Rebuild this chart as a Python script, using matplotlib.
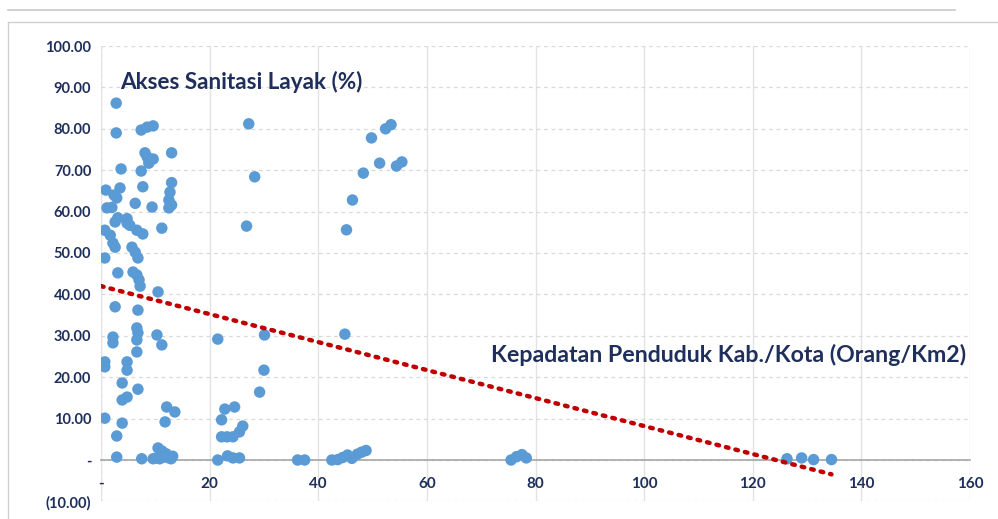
import matplotlib
matplotlib.use("Agg")
import matplotlib.pyplot as plt
from matplotlib.lines import Line2D
from matplotlib.ticker import FuncFormatter, MultipleLocator
import numpy as np

# ---- data ----
density = [
    2.8, 2.8, 7.4, 8.5, 9.6, 8.1, 8.5, 9.6, 8.8, 13.0,
    3.7, 7.4, 7.7, 13.0, 0.9, 3.5, 2.4, 2.9, 12.7, 12.5,
    13.0, 6.3, 9.4, 2.0, 1.1, 12.5, 3.1, 4.8, 2.6, 4.8,
    5.3, 0.7, 1.7, 6.6, 7.7, 11.2, 2.2, 2.6, 5.7, 6.3,
    6.8, 0.7, 3.1, 5.9, 6.6, 7.0, 7.2, 10.5, 2.6, 6.8,
    6.6, 6.8, 2.2, 2.2, 6.6, 6.6, 10.3, 11.2, 0.7, 0.7,
    4.8, 4.8, 3.9, 6.8, 3.9, 4.8, 12.1, 13.6, 0.7, 3.9,
    11.8, 2.9, 10.5, 11.2, 12.0, 11.5, 12.5, 13.2, 10.8, 2.9,
    7.5, 9.6, 10.3, 12.9,
    21.5, 29.2, 22.8, 24.6, 22.2, 26.1, 25.5, 24.3, 23.2, 22.2,
    21.5, 23.3, 24.3, 25.5, 27.2, 28.3, 26.8, 30.1, 30.0,
    36.2, 37.5,
    42.5, 43.6, 44.5, 45.4, 46.2, 47.2, 48.0, 48.8,
    44.9, 45.2, 46.3, 48.3, 49.8, 51.3, 52.4, 53.4, 54.4, 55.4,
    75.5, 76.5, 77.5, 78.3,
    126.3, 129.0, 131.2, 134.5,
]
sanitation = [
    86.2, 79.0, 79.7, 80.4, 80.7, 74.2, 73.2, 72.7, 71.7, 74.2,
    70.3, 69.8, 66.0, 67.0, 65.2, 65.7, 64.0, 63.3, 64.7, 62.8,
    61.6, 62.0, 61.1, 61.0, 60.9, 60.9, 58.5, 58.3, 57.5, 57.2,
    56.7, 55.5, 54.3, 55.5, 54.6, 56.0, 52.4, 51.4, 51.4, 50.2,
    48.8, 48.8, 45.2, 45.4, 44.7, 43.5, 42.0, 40.6, 37.0, 36.2,
    31.9, 30.7, 29.7, 28.3, 29.0, 26.1, 30.2, 27.8, 23.7, 22.5,
    23.7, 21.7, 18.6, 17.1, 14.5, 15.2, 12.8, 11.6, 10.1, 8.9,
    9.2, 5.8, 2.9, 2.2, 1.5, 0.7, 0.5, 0.9, 0.3, 0.7,
    0.3, 0.3, 0.5, 0.3,
    29.2, 16.4, 12.3, 12.8, 9.7, 8.2, 6.8, 5.6, 5.6, 5.6,
    0.0, 1.0, 0.5, 0.5, 81.2, 68.4, 56.5, 30.2, 21.7,
    0.0, 0.0,
    0.0, 0.1, 0.6, 1.2, 0.4, 1.4, 1.9, 2.3,
    30.4, 55.6, 62.8, 69.3, 77.8, 71.7, 80.0, 81.0, 71.0, 72.0,
    0.0, 0.8, 1.3, 0.5,
    0.3, 0.5, 0.1, 0.1,
]
trend_intercept = 42.0
trend_slope = -0.338

y_label_text = "Akses Sanitasi Layak (%)"
x_label_text = "Kepadatan Penduduk Kab./Kota (Orang/Km2)"

# ---- styling ----
navy = "#1F2F5C"
blue = "#5B9BD5"
plt.rcParams["font.family"] = ["Lato", "DejaVu Sans"]

fig = plt.figure(figsize=(9.98, 5.19), dpi=100)
W, H = 998, 519

def fx(px):
    return px / W

def fy(py):
    return 1 - py / H

# outer frame lines
fig.add_artist(Line2D([fx(8), fx(955)], [fy(10), fy(10)], color="#C8C8C8", lw=1.2))
fig.add_artist(Line2D([fx(8), fx(8)], [fy(22), fy(519)], color="#D0D0D0", lw=1.0))
fig.add_artist(Line2D([fx(8), fx(998)], [fy(22), fy(22)], color="#D0D0D0", lw=1.0))

ax = fig.add_axes([fx(101), fy(501.4), fx(970) - fx(101), fy(46) - fy(501.4)])
ax.set_xlim(0, 160)
ax.set_ylim(-10, 100)

for s in ["top", "right", "left"]:
    ax.spines[s].set_visible(False)
ax.spines["bottom"].set_position(("data", 0))
ax.spines["bottom"].set_color("#A6A6A6")
ax.spines["bottom"].set_linewidth(1.2)

ax.xaxis.set_major_locator(MultipleLocator(20))
ax.yaxis.set_major_locator(MultipleLocator(10))

def yfmt(v, pos):
    if abs(v) < 1e-9:
        return "-"
    if v < 0:
        return "({:.2f})".format(-v)
    return "{:.2f}".format(v)

def xfmt(v, pos):
    if abs(v) < 1e-9:
        return "-"
    return "{:d}".format(int(round(v)))

ax.yaxis.set_major_formatter(FuncFormatter(yfmt))
ax.xaxis.set_major_formatter(FuncFormatter(xfmt))
ax.tick_params(axis="y", length=0, pad=7, labelsize=10.5, labelcolor=navy)
ax.tick_params(axis="x", length=0, pad=12, labelsize=11, labelcolor=navy)
for lab in ax.get_xticklabels() + ax.get_yticklabels():
    lab.set_fontweight("bold")

# grid: dashed horizontal, solid vertical
ax.set_axisbelow(True)
ax.yaxis.grid(True, color="#D9D9D9", lw=0.9, linestyle=(0, (3, 3)))
ax.xaxis.grid(True, color="#E3E3E3", lw=1.0, linestyle="-")
ax.axvline(0, color="#D0D0D0", lw=1.0, linestyle=(0, (2, 3)), zorder=0)

ax.scatter(density, sanitation, s=68, color=blue, edgecolors="none", zorder=3)

xt = np.linspace(0, max(density), 50)
ax.plot(xt, trend_intercept + trend_slope * xt, color="#C00000", lw=3.2,
        linestyle=(0, (0.6, 1.6)), dash_capstyle="round", zorder=4)

ax.text(3.5, 91.2, y_label_text, fontsize=16.2, fontweight="bold", color=navy,
        ha="left", va="center")
ax.text(159.2, 25.3, x_label_text, fontsize=16.7, fontweight="bold", color=navy,
        ha="right", va="center")

fig.savefig("out.png", dpi=100)
